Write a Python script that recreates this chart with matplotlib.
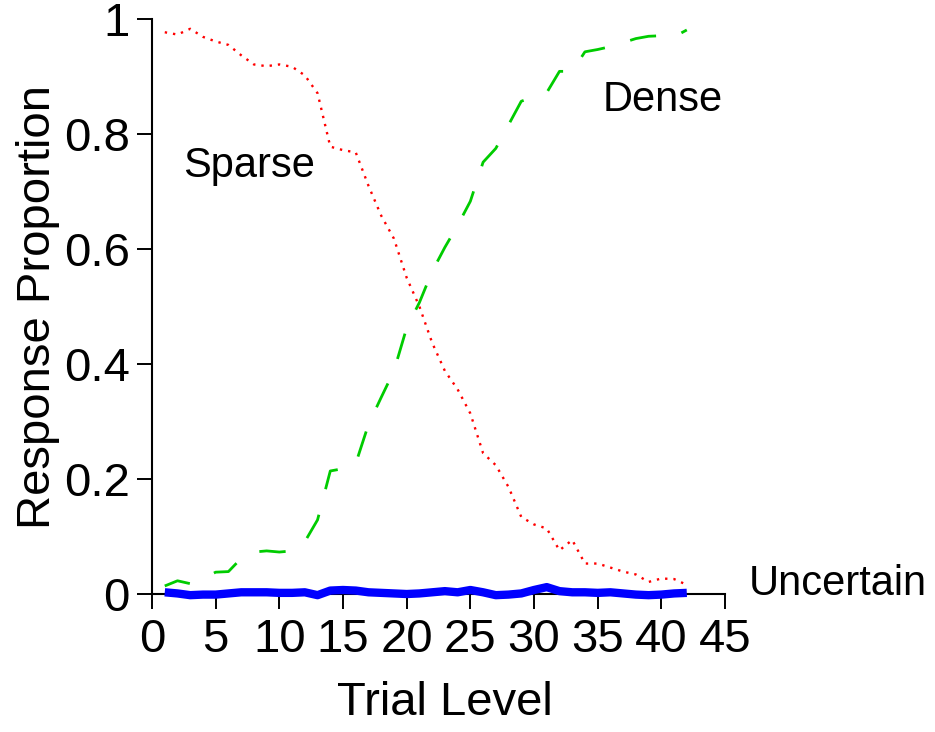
import matplotlib
matplotlib.use("Agg")
import matplotlib.pyplot as plt

plt.rcParams['font.family'] = ['Liberation Sans', 'DejaVu Sans']
plt.rcParams['lines.scale_dashes'] = False

trial = list(range(1, 43))
sparse = [0.977, 0.973, 0.983, 0.969, 0.961, 0.955, 0.937, 0.921, 0.918, 0.921,
          0.917, 0.902, 0.871, 0.778, 0.772, 0.768, 0.710, 0.658, 0.618, 0.550,
          0.500, 0.437, 0.388, 0.356, 0.314, 0.245, 0.224, 0.186, 0.134, 0.121,
          0.114, 0.076, 0.094, 0.053, 0.053, 0.046, 0.039, 0.034, 0.021, 0.027,
          0.026, 0.016]
dense = [0.014, 0.023, 0.018, 0.027, 0.038, 0.039, 0.062, 0.073, 0.075, 0.073,
         0.075, 0.091, 0.129, 0.214, 0.218, 0.227, 0.295, 0.342, 0.388, 0.463,
         0.507, 0.561, 0.603, 0.641, 0.683, 0.751, 0.775, 0.816, 0.857, 0.865,
         0.872, 0.909, 0.909, 0.943, 0.947, 0.952, 0.959, 0.966, 0.970, 0.971,
         0.969, 0.981]
uncertain = [0.003, 0.001, -0.002, -0.001, -0.001, 0.001, 0.003, 0.003, 0.003, 0.002,
             0.002, 0.003, -0.002, 0.006, 0.007, 0.006, 0.003, 0.002, 0.001, 0.000,
             0.001, 0.003, 0.005, 0.003, 0.007, 0.003, -0.002, -0.001, 0.001, 0.007,
             0.012, 0.005, 0.003, 0.003, 0.002, 0.003, 0.001, -0.001, -0.002, -0.001,
             0.001, 0.002]

xticks = [0, 5, 10, 15, 20, 25, 30, 35, 40, 45]
yticks = [0, 0.2, 0.4, 0.6, 0.8, 1]
ytick_labels = ['0', '0.2', '0.4', '0.6', '0.8', '1']

fig = plt.figure(figsize=(9.35, 7.32), dpi=100)
ax = fig.add_axes([0.1626, 0.1885, 0.6128, 0.7855])

ax.plot(trial, sparse, color='#ff0000', lw=1.7, linestyle=(0, (1.7, 4.3)),
        clip_on=False, zorder=3)
ax.plot(trial, dense, color='#00cc00', lw=2.0, linestyle=(0, (19, 19)),
        clip_on=False, zorder=3)
ax.plot(trial, uncertain, color='#0000ff', lw=6, solid_capstyle='butt',
        solid_joinstyle='round', clip_on=False, zorder=4)

ax.set_xlim(0, 45)
ax.set_ylim(0, 1)
ax.set_xticks(xticks)
ax.set_yticks(yticks)
ax.set_yticklabels(ytick_labels)

for s in ['top', 'right']:
    ax.spines[s].set_visible(False)
for s in ['left', 'bottom']:
    ax.spines[s].set_linewidth(1.5)
    ax.spines[s].set_color('black')

ax.tick_params(axis='both', direction='out', length=11, width=1.4,
               labelsize=34, colors='black')
ax.tick_params(axis='x', pad=6)
ax.tick_params(axis='y', pad=5)

ax.set_xlabel('Trial Level', fontsize=34)
ax.set_ylabel('Response Proportion', fontsize=34)
ax.xaxis.set_label_coords(0.511, -0.151)
ax.yaxis.set_label_coords(-0.16, 0.5)

ax.text(2.43, 0.726, 'Sparse', fontsize=30, ha='left', va='baseline')
ax.text(35.4, 0.840, 'Dense', fontsize=30, ha='left', va='baseline')
ax.text(46.9, -0.002, 'Uncertain', fontsize=30, ha='left', va='baseline',
        clip_on=False)

fig.savefig('out.png', dpi=100)
